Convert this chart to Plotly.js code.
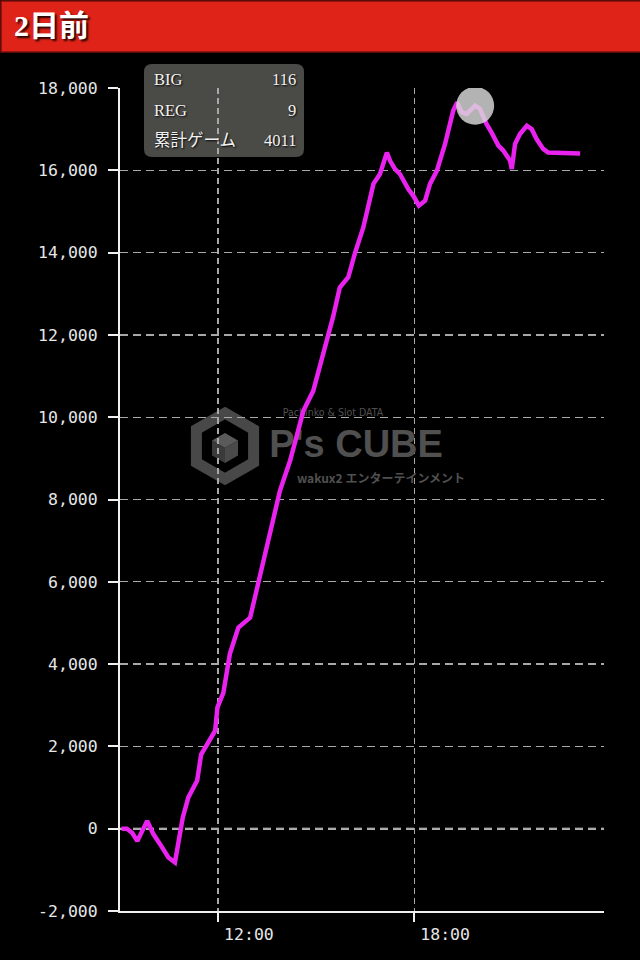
<!DOCTYPE html>
<html>
<head>
<meta charset="utf-8">
<script src="https://cdn.plot.ly/plotly-3.0.1.min.js"></script>
<style>
html,body{margin:0;padding:0;background:#000;}
#chart{width:640px;height:960px;}
</style>
</head>
<body>
<div id="chart"></div>
<script>
// ---- data ----
const titleText = '2日前';
const timeHours = [9.05, 9.21, 9.37, 9.53, 9.83, 10.02, 10.22, 10.48, 10.68, 10.78, 10.92, 11.09, 11.29, 11.36, 11.48, 11.77, 11.91, 11.98, 12.16, 12.36, 12.62, 12.98, 13.23, 13.34, 13.49, 13.64, 13.89, 14.20, 14.61, 14.91, 15.22, 15.52, 15.72, 15.98, 16.19, 16.44, 16.75, 16.95, 17.16, 17.26, 17.41, 17.56, 17.82, 17.97, 18.14, 18.33, 18.48, 18.69, 18.94, 19.19, 19.31, 19.45, 19.60, 19.86, 20.01, 20.21, 20.36, 20.57, 20.72, 20.93, 20.98, 21.08, 21.23, 21.44, 21.59, 21.74, 21.94, 22.09, 23.07];
const coinDiff = [0, 0, -100, -300, 190, -130, -370, -700, -820, -290, 275, 760, 1050, 1170, 1800, 2200, 2380, 2950, 3300, 4250, 4890, 5130, 5980, 6300, 6760, 7320, 8210, 8940, 10160, 10640, 11530, 12450, 13150, 13400, 14000, 14610, 15670, 15910, 16430, 16230, 16030, 15910, 15540, 15380, 15140, 15260, 15670, 15990, 16640, 17450, 17650, 17410, 17370, 17570, 17490, 17120, 16920, 16600, 16480, 16230, 16030, 16640, 16880, 17080, 17000, 16760, 16520, 16430, 16410];
const highlightIndex = 53;
const xTickVals = [12, 18];
const xTickText = ['12:00', '18:00'];
const yTickVals = [-2000, 0, 2000, 4000, 6000, 8000, 10000, 12000, 14000, 16000, 18000];
const yTickText = ['-2,000', '0', '2,000', '4,000', '6,000', '8,000', '10,000', '12,000', '14,000', '16,000', '18,000'];
const statLabels = ['BIG', 'REG', '累計ゲーム'];
const statValues = ['116', '9', '4011'];
const watermarkTexts = ['Pachinko & Slot DATA', "P's CUBE", 'wakux2 エンターテインメント'];

// ---- layout geometry ----
const W = 640, H = 960;
const M = {l: 120, r: 36, t: 88, b: 49};
const PW = W - M.l - M.r, PH = H - M.t - M.b;
const xRange = [9, 23.8];
const yRange = [-2000, 18000];
const fx = px => (px - M.l) / PW;
const fy = py => (H - M.b - py) / PH;
const dx = px => xRange[0] + fx(px) * (xRange[1] - xRange[0]);
const dy = py => yRange[0] + fy(py) * (yRange[1] - yRange[0]);
function pathFrom(pts, close) {
  return pts.map((p, i) => (i ? 'L' : 'M') + fx(p[0]).toFixed(5) + ',' + fy(p[1]).toFixed(5)).join(' ') + (close ? ' Z' : '');
}
function roundRect(x0, y0, x1, y1, r) {
  const P = (x, y) => fx(x).toFixed(5) + ',' + fy(y).toFixed(5);
  return 'M' + P(x0 + r, y0) + ' L' + P(x1 - r, y0) + ' Q' + P(x1, y0) + ' ' + P(x1, y0 + r) +
    ' L' + P(x1, y1 - r) + ' Q' + P(x1, y1) + ' ' + P(x1 - r, y1) +
    ' L' + P(x0 + r, y1) + ' Q' + P(x0, y1) + ' ' + P(x0, y1 - r) +
    ' L' + P(x0, y0 + r) + ' Q' + P(x0, y0) + ' ' + P(x0 + r, y0) + ' Z';
}
function hexPts(cx, cy, r) {
  const pts = [];
  for (let i = 0; i < 6; i++) {
    const a = (-90 + 60 * i) * Math.PI / 180;
    pts.push([cx + r * Math.cos(a), cy + r * Math.sin(a)]);
  }
  return pts;
}

const shapes = [];
// header bar
shapes.push({type: 'rect', xref: 'paper', yref: 'paper', layer: 'below',
  x0: fx(1), x1: fx(641), y0: fy(52), y1: fy(1),
  fillcolor: '#df2318', line: {color: '#7a100b', width: 1.5}});
// stats box
shapes.push({type: 'path', xref: 'paper', yref: 'paper', layer: 'below',
  path: roundRect(144, 64, 304, 157, 8), fillcolor: '#4a4a47', line: {width: 0}});
// watermark cube logo
const lc = [225, 446];
shapes.push({type: 'path', xref: 'paper', yref: 'paper', layer: 'below',
  path: pathFrom(hexPts(lc[0], lc[1], 33), true), fillcolor: 'rgba(0,0,0,0)',
  line: {color: '#484848', width: 11}});
const inner = hexPts(lc[0], lc[1] + 2, 15);
const c0 = [lc[0], lc[1] + 2];
shapes.push({type: 'path', xref: 'paper', yref: 'paper', layer: 'below',
  path: pathFrom([inner[0], inner[1], c0, inner[5]], true), fillcolor: '#5a5a5a', line: {width: 0}});
shapes.push({type: 'path', xref: 'paper', yref: 'paper', layer: 'below',
  path: pathFrom([inner[5], c0, inner[3], inner[4]], true), fillcolor: '#3a3a3a', line: {width: 0}});
shapes.push({type: 'path', xref: 'paper', yref: 'paper', layer: 'below',
  path: pathFrom([c0, inner[1], inner[2], inner[3]], true), fillcolor: '#4a4a4a', line: {width: 0}});
// brighter zero line
shapes.push({type: 'line', xref: 'paper', yref: 'y', layer: 'below',
  x0: 0, x1: 1, y0: 0, y1: 0, line: {color: '#ececec', width: 2, dash: '8px,5px'}});

const annFont = {family: 'Liberation Serif, Noto Sans CJK JP, serif', size: 16.5, color: '#f2f2f2', shadow: '1px 1px 2px #000'};
const statY = [80, 110, 141];
const annotations = [];
statLabels.forEach((t, i) => {
  annotations.push({xref: 'paper', yref: 'paper', x: fx(152), y: fy(statY[i]), xanchor: 'left', yanchor: 'middle',
    text: t, showarrow: false, font: annFont});
  annotations.push({xref: 'paper', yref: 'paper', x: fx(298), y: fy(statY[i]), xanchor: 'right', yanchor: 'middle',
    text: statValues[i], showarrow: false, font: annFont});
});

const wmColor = '#505050';
const traces = [
  {x: [dx(333)], y: [dy(413)], mode: 'text', text: [watermarkTexts[0]], textposition: 'middle center',
    textfont: {family: 'DejaVu Sans Condensed, sans-serif', size: 10.5, color: wmColor}, hoverinfo: 'skip', showlegend: false},
  {x: [dx(356)], y: [dy(447)], mode: 'text', text: [watermarkTexts[1]], textposition: 'middle center',
    textfont: {family: 'Liberation Sans, Arial, sans-serif', size: 38, weight: 'bold', color: wmColor}, hoverinfo: 'skip', showlegend: false},
  {x: [dx(381)], y: [dy(480)], mode: 'text', text: [watermarkTexts[2]], textposition: 'middle center',
    textfont: {family: 'Noto Sans CJK JP, sans-serif', size: 12, weight: 'bold', color: wmColor}, hoverinfo: 'skip', showlegend: false},
  {x: timeHours, y: coinDiff, mode: 'lines', line: {color: '#ea22ef', width: 4.5}, hoverinfo: 'skip', showlegend: false},
  {x: [timeHours[highlightIndex]], y: [coinDiff[highlightIndex]], mode: 'markers',
    marker: {size: 38, color: 'rgba(218,218,218,0.82)', line: {width: 0}}, hoverinfo: 'skip', showlegend: false}
];

const tickFont = {family: 'DejaVu Sans Mono, monospace', size: 16.5, color: '#e6e6e6'};
const layout = {
  width: W, height: H,
  margin: M,
  paper_bgcolor: '#000', plot_bgcolor: '#000',
  showlegend: false,
  title: {text: titleText, x: 14 / W, xref: 'container', xanchor: 'left', y: 1 - 25 / H, yref: 'container', yanchor: 'middle',
    font: {family: 'Liberation Serif, Noto Sans CJK JP, serif', size: 30, weight: 'bold', color: '#ffffff', shadow: '2px 2px 2px rgba(0,0,0,0.85)'}},
  xaxis: {range: xRange, tickmode: 'array', tickvals: xTickVals, ticktext: xTickText,
    showline: true, linecolor: '#f0f0f0', linewidth: 2, ticks: 'outside', ticklen: 9, tickcolor: '#f0f0f0', tickwidth: 2,
    ticklabelposition: 'outside right', ticklabelshift: 4, ticklabelstandoff: 7,
    showgrid: true, gridcolor: '#a8a8a8', gridwidth: 1.3, griddash: '6px,4px', zeroline: false, tickfont: tickFont, fixedrange: true},
  yaxis: {range: yRange, tickmode: 'array', tickvals: yTickVals, ticktext: yTickText,
    showline: true, linecolor: '#f0f0f0', linewidth: 2, ticks: 'outside', ticklen: 10, tickcolor: '#f0f0f0', tickwidth: 2,
    ticklabelstandoff: 7,
    showgrid: true, gridcolor: '#a8a8a8', gridwidth: 1.3, griddash: '8px,5px', zeroline: false, tickfont: tickFont, fixedrange: true},
  shapes: shapes,
  annotations: annotations
};
Plotly.newPlot('chart', traces, layout, {displayModeBar: false, staticPlot: true});
</script>
</body>
</html>
